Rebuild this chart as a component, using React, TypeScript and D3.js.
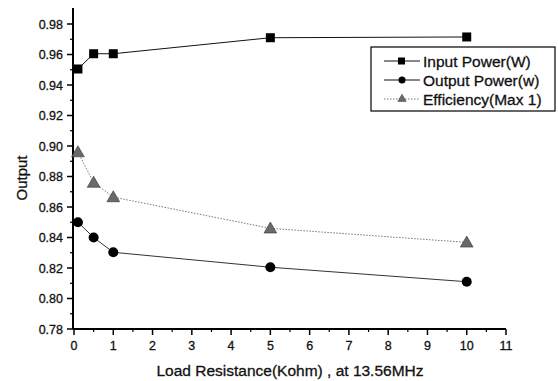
import { useEffect, useRef } from 'react'
import * as d3 from 'd3'

const loadKohm = [0.1, 0.5, 1, 5, 10]
const inputPower = [0.9505, 0.9605, 0.9605, 0.971, 0.9715]
const outputPower = [0.85, 0.84, 0.8303, 0.8205, 0.811]
const efficiency = [0.896, 0.876, 0.8665, 0.846, 0.8368]
const xTicks = [0, 1, 2, 3, 4, 5, 6, 7, 8, 9, 10, 11]
const yTicks = [0.78, 0.8, 0.82, 0.84, 0.86, 0.88, 0.9, 0.92, 0.94, 0.96, 0.98]
const seriesNames = ['Input Power(W)', 'Output Power(w)', 'Efficiency(Max 1)']

export default function App() {
  const svgRef = useRef<SVGSVGElement>(null)

  useEffect(() => {
    if (!svgRef.current) return
    const svg = d3.select(svgRef.current)
    svg.selectAll('*').remove()

    const font = '"Liberation Sans", Arial, sans-serif'
    const x = d3.scaleLinear().domain([0, 11]).range([74, 506])
    const y = d3.scaleLinear().domain([0.78, 0.98]).range([329, 24])
    const x0 = 73

    const g = svg.append('g')

    // minor ticks
    const xMinor = d3.range(0.5, 11, 1)
    g.selectAll('.xminor').data(xMinor).enter().append('line')
      .attr('x1', d => x(d)).attr('x2', d => x(d))
      .attr('y1', 329).attr('y2', 332)
      .attr('stroke', '#000').attr('stroke-width', 1.2)
    const yMinor = d3.range(0.79, 0.99, 0.02)
    g.selectAll('.yminor').data(yMinor).enter().append('line')
      .attr('x1', x0 - 3).attr('x2', x0)
      .attr('y1', d => y(d)).attr('y2', d => y(d))
      .attr('stroke', '#000').attr('stroke-width', 1.2)

    // major ticks + labels
    g.selectAll('.xmajor').data(xTicks).enter().append('line')
      .attr('x1', d => x(d)).attr('x2', d => x(d))
      .attr('y1', 329).attr('y2', 335)
      .attr('stroke', '#000').attr('stroke-width', 1.5)
    g.selectAll('.xlab').data(xTicks).enter().append('text')
      .attr('x', d => x(d)).attr('y', 350)
      .attr('text-anchor', 'middle')
      .style('font-family', font).style('font-size', '12.5px').style('fill', '#111')
      .style('stroke', '#111').style('stroke-width', '0.3px')
      .text(d => d)
    g.selectAll('.ymajor').data(yTicks).enter().append('line')
      .attr('x1', x0 - 6).attr('x2', x0)
      .attr('y1', d => y(d)).attr('y2', d => y(d))
      .attr('stroke', '#000').attr('stroke-width', 1.5)
    g.selectAll('.ylab').data(yTicks).enter().append('text')
      .attr('x', 63).attr('y', d => y(d) + 4.5)
      .attr('text-anchor', 'end')
      .style('font-family', font).style('font-size', '12.5px').style('fill', '#111')
      .style('stroke', '#111').style('stroke-width', '0.3px')
      .text(d => d.toFixed(2))

    // axis lines
    g.append('line').attr('x1', x0).attr('x2', x0).attr('y1', 8).attr('y2', 329)
      .attr('stroke', '#000').attr('stroke-width', 2)
    g.append('line').attr('x1', x0).attr('x2', x(11)).attr('y1', 329).attr('y2', 329)
      .attr('stroke', '#000').attr('stroke-width', 2)

    // axis titles
    g.append('text')
      .attr('transform', 'translate(27,178) rotate(-90)')
      .attr('text-anchor', 'middle')
      .style('font-family', font).style('font-size', '15px').style('fill', '#111')
      .style('stroke', '#111').style('stroke-width', '0.3px')
      .text('Output')
    g.append('text')
      .attr('x', 290).attr('y', 376)
      .attr('text-anchor', 'middle')
      .style('font-family', font).style('font-size', '15.5px').style('fill', '#111')
      .style('stroke', '#111').style('stroke-width', '0.3px')
      .text('Load Resistance(Kohm) , at 13.56MHz')

    const line = d3.line<number>().x((d, i) => x(loadKohm[i])).y(d => y(d))

    // lines
    g.append('path').datum(inputPower).attr('d', line)
      .attr('fill', 'none').attr('stroke', '#111').attr('stroke-width', 1)
    g.append('path').datum(outputPower).attr('d', line)
      .attr('fill', 'none').attr('stroke', '#333').attr('stroke-width', 1)
    g.append('path').datum(efficiency).attr('d', line)
      .attr('fill', 'none').attr('stroke', '#777').attr('stroke-width', 1)
      .attr('stroke-dasharray', '1.5,1.5')

    const tri = d3.symbol().type(d3.symbolTriangle).size(70)

    // markers
    g.selectAll('.sq').data(inputPower).enter().append('rect')
      .attr('x', (d, i) => x(loadKohm[i]) - 4.5).attr('y', d => y(d) - 4.5)
      .attr('width', 9).attr('height', 9).attr('fill', '#000')
    g.selectAll('.ci').data(outputPower).enter().append('circle')
      .attr('cx', (d, i) => x(loadKohm[i])).attr('cy', d => y(d))
      .attr('r', 5).attr('fill', '#000')
    g.selectAll('.tr').data(efficiency).enter().append('path')
      .attr('d', tri)
      .attr('transform', (d, i) => `translate(${x(loadKohm[i])},${y(d) + 1})`)
      .attr('fill', '#6a6a6a').attr('stroke', '#333').attr('stroke-width', 0.6)

    // legend
    const lg = g.append('g').attr('transform', 'translate(371,47)')
    lg.append('rect').attr('width', 184).attr('height', 64)
      .attr('fill', '#fff').attr('stroke', '#000').attr('stroke-width', 1.2)
    seriesNames.forEach((name, i) => {
      const cy = 14 + i * 19
      const ln = lg.append('line').attr('x1', 13).attr('x2', 49).attr('y1', cy).attr('y2', cy)
        .attr('stroke', i === 2 ? '#777' : '#111').attr('stroke-width', 1)
      if (i === 2) ln.attr('stroke-dasharray', '1.5,1.5')
      if (i === 0) lg.append('rect').attr('x', 27).attr('y', cy - 3.5).attr('width', 7).attr('height', 7).attr('fill', '#000')
      if (i === 1) lg.append('circle').attr('cx', 31).attr('cy', cy).attr('r', 3.5).attr('fill', '#000')
      if (i === 2) lg.append('path').attr('d', d3.symbol().type(d3.symbolTriangle).size(30))
        .attr('transform', `translate(31,${cy})`).attr('fill', '#6a6a6a').attr('stroke', '#333').attr('stroke-width', 0.5)
      lg.append('text').attr('x', 52).attr('y', cy + 5.5)
        .style('font-family', font).style('font-size', '15.5px').style('fill', '#111')
        .style('stroke', '#111').style('stroke-width', '0.3px')
        .text(name)
    })
  }, [])

  return (
    <svg ref={svgRef} width={558} height={381}
      style={{ position: 'absolute', left: 0, top: 0, background: '#fff' }} />
  )
}
